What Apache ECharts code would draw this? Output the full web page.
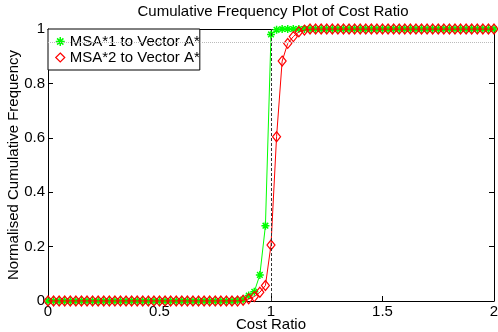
<!DOCTYPE html>
<html>
<head>
<meta charset="utf-8">
<script src="https://cdn.jsdelivr.net/npm/echarts@6/dist/echarts.min.js"></script>
<style>
  html, body { margin: 0; padding: 0; background: #fff; }
  #chart { width: 498px; height: 332px; }
</style>
</head>
<body>
<div id="chart"></div>
<script>
// cost ratio sample points (x axis)
var costRatio = [
    0, 0.025, 0.05, 0.075, 0.1, 0.125, 0.15, 0.175, 0.2, 0.225,
    0.25, 0.275, 0.3, 0.325, 0.35, 0.375, 0.4, 0.425, 0.45, 0.475,
    0.5, 0.525, 0.55, 0.575, 0.6, 0.625, 0.65, 0.675, 0.7, 0.725,
    0.75, 0.775, 0.8, 0.825, 0.85, 0.875, 0.9, 0.925, 0.95, 0.975,
    1, 1.025, 1.05, 1.075, 1.1, 1.125, 1.15, 1.175, 1.2, 1.225,
    1.25, 1.275, 1.3, 1.325, 1.35, 1.375, 1.4, 1.425, 1.45, 1.475,
    1.5, 1.525, 1.55, 1.575, 1.6, 1.625, 1.65, 1.675, 1.7, 1.725,
    1.75, 1.775, 1.8, 1.825, 1.85, 1.875, 1.9, 1.925, 1.95, 1.975,
    2
];
// MSA*1 to Vector A*
var msa1 = [
    0, 0, 0, 0, 0, 0, 0, 0, 0, 0,
    0, 0, 0, 0, 0, 0, 0, 0, 0, 0,
    0, 0, 0, 0, 0, 0, 0, 0, 0, 0,
    0, 0, 0, 0, 0.002, 0.005, 0.02, 0.034, 0.096, 0.277,
    0.98, 0.997, 1, 1, 1, 1, 1, 1, 1, 1,
    1, 1, 1, 1, 1, 1, 1, 1, 1, 1,
    1, 1, 1, 1, 1, 1, 1, 1, 1, 1,
    1, 1, 1, 1, 1, 1, 1, 1, 1, 1,
    1
];
// MSA*2 to Vector A*
var msa2 = [
    0, 0, 0, 0, 0, 0, 0, 0, 0, 0,
    0, 0, 0, 0, 0, 0, 0, 0, 0, 0,
    0, 0, 0, 0, 0, 0, 0, 0, 0, 0,
    0, 0, 0, 0, 0, 0.003, 0.008, 0.016, 0.032, 0.057,
    0.206, 0.604, 0.882, 0.947, 0.972, 0.99, 0.996, 1, 1, 1,
    1, 1, 1, 1, 1, 1, 1, 1, 1, 1,
    1, 1, 1, 1, 1, 1, 1, 1, 1, 1,
    1, 1, 1, 1, 1, 1, 1, 1, 1, 1,
    1
];
var seriesNames = ['MSA*1 to Vector A*', 'MSA*2 to Vector A*'];
var refLevel = [0.95];   // dotted horizontal line
var refRatio = [1];      // dashed vertical line

var starPath = 'path://M0 5 L10 5 M5 0 L5 10 M1.5 1.5 L8.5 8.5 M8.5 1.5 L1.5 8.5';
var font = "'Liberation Sans', Arial, sans-serif";

function pairs(xs, ys) {
    var out = [];
    for (var i = 0; i < xs.length; i++) {
        out.push([xs[i], ys[i]]);
    }
    return out;
}

var axisCommon = {
    min: 0,
    axisLine: { show: true, onZero: false, lineStyle: { color: '#000', width: 1 } },
    axisTick: { show: true, inside: true, length: 5, lineStyle: { color: '#000' } },
    splitLine: { show: false }
};

var option = {
    animation: false,
    backgroundColor: '#fff',
    textStyle: { fontFamily: font },
    title: {
        text: 'Cumulative Frequency Plot of Cost Ratio',
        left: 273,
        top: 4,
        padding: 0,
        textAlign: 'center',
        textStyle: { fontSize: 15, fontWeight: 'normal', color: '#000', fontFamily: font }
    },
    grid: { left: 48, right: 4, top: 29, bottom: 31, containLabel: false, outerBoundsMode: 'none' },
    legend: {
        orient: 'vertical',
        left: 48,
        top: 29,
        padding: [5, 0, 5, 7],
        itemGap: 1,
        itemWidth: 9,
        itemHeight: 9,
        backgroundColor: '#fff',
        borderColor: '#000',
        borderWidth: 1,
        borderRadius: 0,
        textStyle: { fontSize: 15, color: '#000', fontFamily: font },
        data: [
            { name: seriesNames[0], icon: starPath,
              itemStyle: { color: 'transparent', borderColor: '#00ff00', borderWidth: 1.5 } },
            { name: seriesNames[1], icon: 'diamond',
              itemStyle: { color: 'transparent', borderColor: '#ff0000', borderWidth: 1.2 } }
        ]
    },
    xAxis: [
        Object.assign({}, axisCommon, {
            type: 'value', max: 2, interval: 0.5, position: 'bottom',
            name: 'Cost Ratio', nameLocation: 'middle', nameGap: 16, nameMoveOverlap: false,
            nameTextStyle: { fontSize: 15, color: '#000', fontFamily: font },
            axisLabel: { fontSize: 15, color: '#000', margin: 3, fontFamily: font }
        }),
        Object.assign({}, axisCommon, {
            type: 'value', max: 2, interval: 0.5, position: 'top',
            axisLabel: { show: false }
        })
    ],
    yAxis: [
        Object.assign({}, axisCommon, {
            type: 'value', max: 1, interval: 0.2, position: 'left',
            name: 'Normalised Cumulative Frequency', nameLocation: 'middle', nameGap: 27, nameMoveOverlap: false,
            nameTextStyle: { fontSize: 15, color: '#000', fontFamily: font },
            axisLabel: { fontSize: 15, color: '#000', margin: 3, fontFamily: font }
        }),
        Object.assign({}, axisCommon, {
            type: 'value', max: 1, interval: 0.2, position: 'right',
            axisLabel: { show: false }
        })
    ],
    series: [
        {
            name: seriesNames[0],
            type: 'line',
            data: pairs(costRatio, msa1),
            symbol: starPath,
            symbolSize: 8,
            showAllSymbol: true,
            lineStyle: { color: '#00ff00', width: 1 },
            itemStyle: { color: 'transparent', borderColor: '#00ff00', borderWidth: 1.5 },
            markLine: {
                silent: true,
                symbol: 'none',
                label: { show: false },
                lineStyle: { color: '#bbbbbb', type: 'dotted', width: 1 },
                data: [{ yAxis: refLevel[0] }]
            },
            z: 3
        },
        {
            name: seriesNames[1],
            type: 'line',
            data: pairs(costRatio, msa2),
            symbol: 'diamond',
            symbolSize: [8, 10],
            showAllSymbol: true,
            lineStyle: { color: '#ff0000', width: 1 },
            itemStyle: { color: 'transparent', borderColor: '#ff0000', borderWidth: 1.2 },
            markLine: {
                silent: true,
                symbol: 'none',
                label: { show: false },
                lineStyle: { color: '#333333', type: [3, 2], width: 1 },
                data: [{ xAxis: refRatio[0] }]
            },
            z: 4
        }
    ]
};

var chart = echarts.init(document.getElementById('chart'), null, { renderer: 'canvas' });
chart.setOption(option);
</script>
</body>
</html>
